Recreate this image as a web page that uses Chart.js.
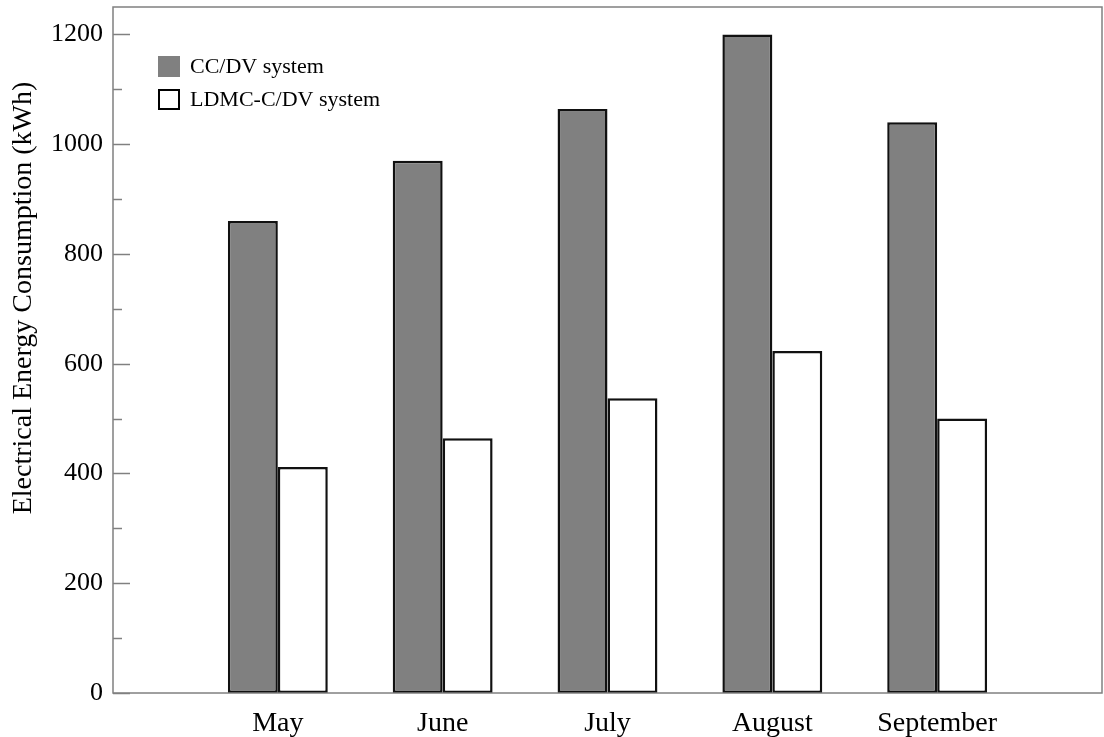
<!DOCTYPE html>
<html>
<head>
<meta charset="utf-8">
<script src="https://cdn.jsdelivr.net/npm/chart.js@4"></script>
<style>
  html, body { margin: 0; padding: 0; background: #fff; }
  #wrap { width: 1104px; height: 737px; }
</style>
</head>
<body>
<div id="wrap"><canvas id="energyChart" width="1104" height="737"></canvas></div>
<script>
const months = ["May", "June", "July", "August", "September"];
const ccdv = [860, 970, 1064, 1200, 1040];
const ldmc = [412, 464, 537, 623, 500];
const yTicks = [0, 200, 400, 600, 800, 1000, 1200];
const yTitle = "Electrical Energy Consumption (kWh)";

// empty slots at both ends so the months sit at 1..5 on a 0..6 axis
const labels = ["", ...months, ""];
const pad = (arr) => [null, ...arr, null];

const FONT = "'Liberation Serif', 'Times New Roman', serif";
const FRAME = "#808080";

// frame, inward ticks, axis title and the legend inside the plot
const framePlugin = {
  id: "frame",
  afterDraw(chart) {
    const { ctx, chartArea: a, scales } = chart;
    const y = scales.y;
    ctx.save();
    ctx.strokeStyle = FRAME;
    ctx.lineWidth = 1.5;
    ctx.strokeRect(a.left, a.top, a.right - a.left, a.bottom - a.top);

    for (let v = 0; v <= 1200; v += 100) {
      const py = Math.round(y.getPixelForValue(v)) + 0.5;
      const len = v % 200 === 0 ? 17 : 9;
      ctx.beginPath();
      ctx.moveTo(a.left, py);
      ctx.lineTo(a.left + len, py);
      ctx.stroke();
    }

    // y title, sits a bit above the middle of the plot like the original
    ctx.save();
    ctx.translate(24, 298);
    ctx.rotate(-Math.PI / 2);
    ctx.font = "28px " + FONT;
    ctx.textAlign = "center";
    ctx.textBaseline = "middle";
    ctx.fillStyle = "#000";
    ctx.fillText(yTitle, 0, 0);
    ctx.restore();

    ctx.font = "22px " + FONT;
    ctx.textBaseline = "middle";
    chart.data.datasets.forEach((ds, i) => {
      const bx = 158, by = 56 + i * 33;
      ctx.fillStyle = ds.backgroundColor;
      ctx.fillRect(bx, by, 22, 21);
      if (ds.legendBorder) {
        ctx.strokeStyle = "#000";
        ctx.lineWidth = 2;
        ctx.strokeRect(bx + 1, by + 1, 20, 19);
      }
      ctx.fillStyle = "#000";
      ctx.fillText(ds.label, 190, by + 11);
    });
    ctx.restore();
  }
};

new Chart(document.getElementById("energyChart"), {
  type: "bar",
  data: {
    labels: labels,
    datasets: [
      {
        label: "CC/DV system",
        data: pad(ccdv),
        backgroundColor: "#808080",
        borderColor: "#111",
        borderWidth: 2.5,
        borderSkipped: false,
        legendBorder: false
      },
      {
        label: "LDMC-C/DV system",
        data: pad(ldmc),
        backgroundColor: "#ffffff",
        borderColor: "#111",
        borderWidth: 2.5,
        borderSkipped: false,
        legendBorder: true
      }
    ]
  },
  options: {
    responsive: false,
    animation: false,
    layout: { padding: { top: 7, right: 2, left: 0, bottom: 0 } },
    categoryPercentage: 0.606,
    barPercentage: 1,
    plugins: {
      legend: { display: false },
      tooltip: { enabled: false }
    },
    scales: {
      x: {
        offset: false,
        grid: { display: false },
        border: { display: false },
        ticks: {
          color: "#000",
          font: { family: FONT, size: 28 },
          padding: 6,
          maxRotation: 0,
          autoSkip: false
        },
        afterFit(scale) {
          scale.height = 44;
          scale.paddingLeft = 0;
          scale.paddingRight = 0;
        }
      },
      y: {
        min: 0,
        max: 1250,
        afterBuildTicks(scale) { scale.ticks = yTicks.map(v => ({ value: v })); },
        grid: { display: false, drawTicks: false },
        border: { display: false },
        ticks: {
          color: "#000",
          font: { family: FONT, size: 26 },
          padding: 10,
          callback: (v) => String(v)
        },
        afterFit(scale) {
          scale.width = 113;
          scale.paddingTop = 0;
          scale.paddingBottom = 0;
        }
      }
    }
  },
  plugins: [framePlugin]
});
</script>
</body>
</html>
